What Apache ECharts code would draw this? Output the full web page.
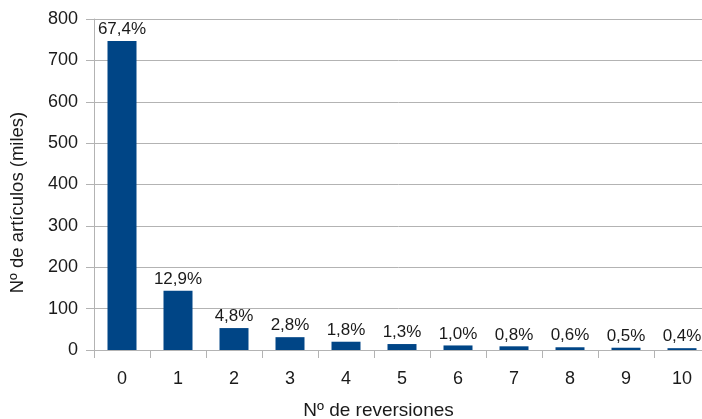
<!DOCTYPE html>
<html>
<head>
<meta charset="utf-8">
<script src="https://cdn.jsdelivr.net/npm/echarts@6/dist/echarts.min.js"></script>
<style>
html,body{margin:0;padding:0;background:#fff;}
#c{width:702px;height:419px;}
</style>
</head>
<body>
<div id="c"></div>
<script>
const categories = ['0','1','2','3','4','5','6','7','8','9','10'];
const values = [747, 143, 53, 31, 20, 14.4, 11, 8.9, 6.6, 5.5, 4.4];
const pctLabels = ['67,4%','12,9%','4,8%','2,8%','1,8%','1,3%','1,0%','0,8%','0,6%','0,5%','0,4%'];
const yTicks = [0, 100, 200, 300, 400, 500, 600, 700, 800];

const chart = echarts.init(document.getElementById('c'), null, {renderer: 'canvas'});
const font = 'Liberation Sans, Arial, sans-serif';
chart.setOption({
  animation: false,
  backgroundColor: '#ffffff',
  grid: {left: 94, top: 19, width: 616, height: 331, containLabel: false, outerBoundsMode: 'none'},
  xAxis: {
    type: 'category',
    data: categories,
    name: 'Nº de reversiones',
    nameLocation: 'middle',
    nameGap: 51,
    nameTextStyle: {fontFamily: font, fontSize: 19, color: '#1a1a1a', padding: [0, 47, 0, 0]},
    axisLine: {lineStyle: {color: '#b3b3b3', width: 1}},
    axisTick: {show: true, length: 8, lineStyle: {color: '#b3b3b3'}},
    axisLabel: {fontFamily: font, fontSize: 18, color: '#1a1a1a', margin: 20}
  },
  yAxis: {
    type: 'value',
    min: yTicks[0],
    max: yTicks[yTicks.length - 1],
    interval: 100,
    name: 'Nº de artículos (miles)',
    nameLocation: 'middle',
    nameGap: 67,
    nameTextStyle: {fontFamily: font, fontSize: 18.5, color: '#1a1a1a', padding: [0, 36, 0, 0]},
    axisLine: {show: true, lineStyle: {color: '#b3b3b3', width: 1}},
    axisTick: {show: true, length: 8, lineStyle: {color: '#b3b3b3'}},
    axisLabel: {fontFamily: font, fontSize: 18, color: '#1a1a1a', margin: 16},
    splitLine: {show: true, lineStyle: {color: '#b3b3b3', width: 1}}
  },
  series: [{
    type: 'bar',
    data: values,
    barWidth: 29,
    itemStyle: {color: '#004586'},
    label: {
      show: true,
      position: 'top',
      distance: 3,
      fontFamily: font,
      fontSize: 17,
      color: '#1a1a1a',
      formatter: p => pctLabels[p.dataIndex]
    }
  }]
});
</script>
</body>
</html>
